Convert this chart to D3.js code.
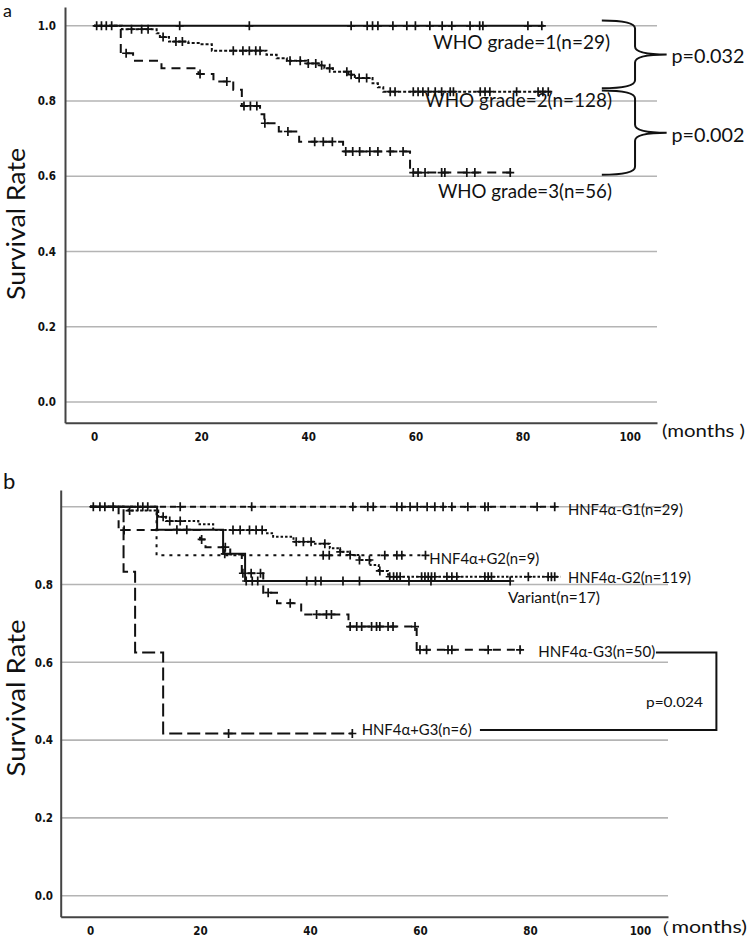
<!DOCTYPE html>
<html>
<head>
<meta charset="utf-8">
<script src="https://cdn.jsdelivr.net/npm/d3@7"></script>
<style>
body { margin: 0; background: #fff; }
svg text { font-family: Lato, "Open Sans", sans-serif; fill: #111; }
.axis .tick text { font-family: "Liberation Sans Narrow", "DejaVu Sans Condensed", "Liberation Sans", sans-serif; font-weight: bold; font-size: 11.5px; fill: #111; }
</style>
</head>
<body>
<script>
//////////////////////////////////////////////////////////////////////////////
// Data (months, survival rate)

var monthTicks = [0, 20, 40, 60, 80, 100];
var rateTicksA = [0, 0.2, 0.4, 0.6, 0.8, 1.0];
var rateTicksB = [0, 0.2, 0.4, 0.6, 0.8];
var gridRates  = [0, 0.2, 0.4, 0.6, 0.8, 1.0];

// panel a: WHO grade
var who1Times  = [0];
var who1Surv   = [1];
var who1End    = 84;
var who1Censor = [0.5, 1.4, 2.3, 3.3, 16, 29, 48, 51, 52, 53, 55.8, 58.4, 60, 62.7, 65, 66.8, 70.2, 72, 72.6, 81, 83.6];

var who2Times  = [0, 5.2, 11.7, 12.3, 14, 17.6, 19.8, 22, 32.2, 34.1, 36, 39.7, 41.9, 43, 44.6, 47.5, 48.7, 52, 53, 54];
var who2Surv   = [1, 0.991, 0.98, 0.97, 0.958, 0.954, 0.951, 0.934, 0.923, 0.914, 0.907, 0.9, 0.895, 0.887, 0.878, 0.87, 0.861, 0.847, 0.837, 0.825];
var who2End    = 85.4;
var who2Censor = [7, 8.9, 10.1, 12.9, 15.3, 16.5, 26, 27.8, 29, 30.2, 31, 36.6, 38.5, 40, 41.4, 42.5, 44, 47.2, 48, 49.5, 50.9,
                  55.3, 56.2, 59.6, 60.5, 61.4, 62.4, 63.7, 64.9, 66.5, 67.1, 72.1, 73, 73.9, 78.9, 82.9, 83.8, 84.8];

var who3Times  = [0, 5, 7.3, 12.6, 19.5, 22.3, 26, 27.6, 31, 31.8, 34.5, 38.3, 46.5, 59];
var who3Surv   = [1, 0.927, 0.907, 0.887, 0.872, 0.852, 0.83, 0.787, 0.765, 0.741, 0.719, 0.692, 0.666, 0.61];
var who3End    = 78.2;
var who3Censor = [6, 19.8, 24.8, 28, 29.2, 30.4, 31.9, 36.2, 41.2, 42.8, 44.5, 47, 48.3, 49.6, 51.5, 53, 55.3, 57.7,
                  59.6, 60.5, 61.8, 64.9, 65.5, 69.6, 71.1, 77.7];

// panel b: HNF4a / grade
var g1Times  = [0];
var g1Surv   = [1];
var g1End    = 85;
var g1Censor = [0.6, 1.8, 2.7, 4.2, 8.7, 9.6, 10.5, 16.4, 29.4, 47.8, 50.5, 51.5, 55.8, 56.7, 58.2, 59.5, 61.3, 62.7,
                64.2, 65.8, 68.7, 71.8, 72.4, 81.3, 84.5];

var g2Times  = [0, 7, 12.4, 13.8, 19.7, 22.4, 32, 33.3, 37, 40.6, 43.6, 45.5, 47.3, 49, 51, 52.5, 54.2];
var g2Surv   = [1, 0.99, 0.974, 0.963, 0.955, 0.94, 0.932, 0.923, 0.91, 0.905, 0.893, 0.884, 0.876, 0.863, 0.85, 0.835, 0.82];
var g2End    = 85.5;
var g2Censor = [7.2, 13.3, 14.5, 16.4, 26, 27.3, 29, 30.2, 31.3, 37.5, 38.8, 40.2, 42.7, 45.5, 47.3, 49, 50.8, 52.7,
                54.5, 55.2, 55.8, 56.4, 60.3, 60.9, 61.5, 62.1, 62.7, 64.9, 65.8, 66.7, 71.8, 72.4, 73, 79.7, 83.3, 83.9, 84.5];

var pg2Times  = [0, 12.1];
var pg2Surv   = [1, 0.875];
var pg2End    = 61;
var pg2Censor = [42.4, 43.5, 53.6, 55.8, 56.7, 61];

var varTimes  = [0, 12.2, 24.2, 28.2];
var varSurv   = [1, 0.941, 0.879, 0.809];
var varEnd    = 76.4;
var varCensor = [15.8, 17.6, 24.5, 28.4, 29.5, 30.5, 39.4, 41, 42, 46, 49, 58, 62, 76.4];

var g3Times  = [0, 5.2, 20, 21, 25.5, 27.6, 31.5, 34, 38.4, 47, 59.4];
var g3Surv   = [1, 0.94, 0.916, 0.896, 0.877, 0.829, 0.779, 0.752, 0.723, 0.692, 0.632];
var g3End    = 78.5;
var g3Censor = [6.2, 20.3, 24.6, 27.8, 29.3, 31, 32.4, 36.4, 41.2, 43, 43.9, 47.3, 48.5, 49.4, 51.2, 52.1, 52.7, 54.2,
                55.1, 59.1, 60, 61.2, 65.1, 65.8, 72.4, 78.2];

var pg3Times  = [0, 6.1, 8.2, 13.3];
var pg3Surv   = [1, 0.833, 0.625, 0.417];
var pg3End    = 47.7;
var pg3Censor = [25.2, 47.7];

//////////////////////////////////////////////////////////////////////////////
// Preliminaries

var svg = d3.select("body").append("svg")
    .attr("width", 749)
    .attr("height", 938);

function survAt(times, surv, t) {
    var v = surv[0];
    for (var i = 0; i < times.length; ++i) { if (times[i] <= t) v = surv[i]; }
    return v;
}

function drawFrame(g, x, y, rateTicks, pad) {
    var x0 = x.range()[0], x1 = x.range()[1];

    g.append("g")
    .selectAll("line")
    .data(gridRates)
    .enter()
    .append("line")
    .attr("x1", x0).attr("x2", x1)
    .attr("y1", function(d) { return y(d); })
    .attr("y2", function(d) { return y(d); })
    .attr("stroke", "#b4b4b4")
    .attr("stroke-width", 1.6);

    var yAxis = g.append("g")
    .attr("class", "axis")
    .attr("transform", "translate(" + x0 + ",0)")
    .call(d3.axisLeft(y).tickValues(rateTicks).tickSize(0).tickPadding(pad).tickFormat(d3.format(".1f")));

    var xAxis = g.append("g")
    .attr("class", "axis")
    .attr("transform", "translate(0," + y.range()[0] + ")")
    .call(d3.axisBottom(x).tickValues(monthTicks).tickSize(0).tickPadding(10.5));

    [yAxis, xAxis].forEach(function(a) {
        a.select(".domain").attr("stroke", "#444").attr("stroke-width", 2);
    });
}

function drawCurve(g, x, y, c) {
    var pts = c.times.map(function(t, i) { return [t, c.surv[i]]; });
    pts.push([c.end, c.surv[c.surv.length - 1]]);

    g.append("path")
    .attr("d", d3.line().curve(d3.curveStepAfter)
        .x(function(d) { return x(d[0]); })
        .y(function(d) { return y(d[1]); })(pts))
    .attr("fill", "none")
    .attr("stroke", "#111")
    .attr("stroke-width", 2)
    .attr("stroke-dasharray", c.dash);

    g.append("g")
    .selectAll("path")
    .data(c.censor)
    .enter()
    .append("path")
    .attr("transform", function(t) {
        return "translate(" + x(t) + "," + y(survAt(c.times, c.surv, t)) + ")";
    })
    .attr("d", "M -4 0 L 4 0 M 0 -4.5 L 0 4.5")
    .attr("stroke", "#111")
    .attr("stroke-width", 1.7);
}

function drawLabels(g, x, y, labels, size) {
    g.append("g")
    .selectAll("text")
    .data(labels)
    .enter()
    .append("text")
    .attr("x", function(d) { return x(d.m); })
    .attr("y", function(d) { return y(d.s); })
    .attr("font-size", size)
    .attr("textLength", function(d) { return d.w; })
    .attr("lengthAdjust", "spacingAndGlyphs")
    .text(function(d) { return d.t; });
}

function bracePath(x, y, b) {
    var xa = x(b.x0), xm = x(b.xm), xt = x(b.xt);
    var ya = y(b.top), yb = y(b.bottom), yc = (ya + yb) / 2, r = 8;
    return "M" + xa + "," + ya +
        " Q" + xm + "," + ya + " " + xm + "," + (ya + r) +
        " L" + xm + "," + (yc - r) +
        " Q" + xm + "," + yc + " " + xt + "," + yc +
        " Q" + xm + "," + yc + " " + xm + "," + (yc + r) +
        " L" + xm + "," + (yb - r) +
        " Q" + xm + "," + yb + " " + xa + "," + yb;
}

function yTitle(g, cy, len) {
    g.append("text")
    .attr("transform", "translate(25," + cy + ") rotate(-90)")
    .attr("text-anchor", "middle")
    .attr("font-size", 25)
    .attr("textLength", len)
    .attr("lengthAdjust", "spacingAndGlyphs")
    .text("Survival Rate");
}

//////////////////////////////////////////////////////////////////////////////
// Panel a

var xA = d3.scaleLinear().domain([-5.41, 105.1]).range([65, 657]);
var yA = d3.scaleLinear().domain([-0.055, 1.05]).range([422.7, 7]);
var gA = svg.append("g");

drawFrame(gA, xA, yA, rateTicksA, 9);

drawCurve(gA, xA, yA, {times: who1Times, surv: who1Surv, end: who1End, censor: who1Censor, dash: null});
drawCurve(gA, xA, yA, {times: who2Times, surv: who2Surv, end: who2End, censor: who2Censor, dash: "3,2"});
drawCurve(gA, xA, yA, {times: who3Times, surv: who3Surv, end: who3End, censor: who3Censor, dash: "9,6"});

drawLabels(gA, xA, yA, [
    {t: "WHO grade=1(n=29)",  m: 63.3, s: 0.938, w: 177},
    {t: "WHO grade=2(n=128)", m: 61.8, s: 0.785, w: 187},
    {t: "WHO grade=3(n=56)",  m: 64.2, s: 0.541, w: 174},
    {t: "p=0.032",            m: 107.8, s: 0.901, w: 73},
    {t: "p=0.002",            m: 107.8, s: 0.692, w: 73}
], 19);

gA.append("g")
.selectAll("path")
.data([{top: 1.014, bottom: 0.834, x0: 94.8, xm: 101, xt: 106.9},
       {top: 0.828, bottom: 0.604, x0: 94.8, xm: 101, xt: 106.9}])
.enter()
.append("path")
.attr("d", function(b) { return bracePath(xA, yA, b); })
.attr("fill", "none")
.attr("stroke", "#111")
.attr("stroke-width", 2);

yTitle(gA, 224, 152);

gA.append("text").attr("x", 662).attr("y", 437).attr("font-size", 17)
.attr("textLength", 83).attr("lengthAdjust", "spacingAndGlyphs").text("(months )");

gA.append("text").attr("x", 3).attr("y", 16.5).attr("font-size", 18)
.attr("font-family", "Liberation Sans, Arial, sans-serif").text("a");

//////////////////////////////////////////////////////////////////////////////
// Panel b

var xB = d3.scaleLinear().domain([-5.33, 105.1]).range([60.7, 668]);
var yB = d3.scaleLinear().domain([-0.054, 1.043]).range([916.7, 490]);
var gB = svg.append("g");

drawFrame(gB, xB, yB, rateTicksB, 7.7);

drawCurve(gB, xB, yB, {times: g1Times,  surv: g1Surv,  end: g1End,  censor: g1Censor,  dash: "6,4"});
drawCurve(gB, xB, yB, {times: g2Times,  surv: g2Surv,  end: g2End,  censor: g2Censor,  dash: "2.5,2"});
drawCurve(gB, xB, yB, {times: pg2Times, surv: pg2Surv, end: pg2End, censor: pg2Censor, dash: "3,5"});
drawCurve(gB, xB, yB, {times: varTimes, surv: varSurv, end: varEnd, censor: varCensor, dash: null});
drawCurve(gB, xB, yB, {times: g3Times,  surv: g3Surv,  end: g3End,  censor: g3Censor,  dash: "8,6"});
drawCurve(gB, xB, yB, {times: pg3Times, surv: pg3Surv, end: pg3End, censor: pg3Censor, dash: "13,5"});

drawLabels(gB, xB, yB, [
    {t: "HNF4\u03b1-G1(n=29)",  m: 86.9, s: 0.980, w: 115},
    {t: "HNF4\u03b1+G2(n=9)",   m: 61.7, s: 0.854, w: 110},
    {t: "HNF4\u03b1-G2(n=119)", m: 86.9, s: 0.805, w: 123},
    {t: "Variant(n=17)",        m: 76.0, s: 0.753, w: 92},
    {t: "HNF4\u03b1-G3(n=50)",  m: 81.5, s: 0.614, w: 117},
    {t: "HNF4\u03b1+G3(n=6)",   m: 49.4, s: 0.414, w: 110}
], 15);

drawLabels(gB, xB, yB, [{t: "p=0.024", m: 101.1, s: 0.486, w: 57}], 14);

var bracket = [[102.9, 0.625], [113.9, 0.625], [113.9, 0.426], [70.9, 0.426]];
gB.append("path")
.attr("d", d3.line().x(function(d) { return xB(d[0]); }).y(function(d) { return yB(d[1]); })(bracket))
.attr("fill", "none")
.attr("stroke", "#111")
.attr("stroke-width", 2);

yTitle(gB, 698, 157);

gB.append("text").attr("x", 650).attr("y", 933).attr("font-size", 17)
.attr("textLength", 97).attr("lengthAdjust", "spacingAndGlyphs").text("\uff08months)");

gB.append("text").attr("x", 3).attr("y", 489).attr("font-size", 22)
.attr("font-family", "Liberation Sans, Arial, sans-serif").text("b");
</script>
</body>
</html>
